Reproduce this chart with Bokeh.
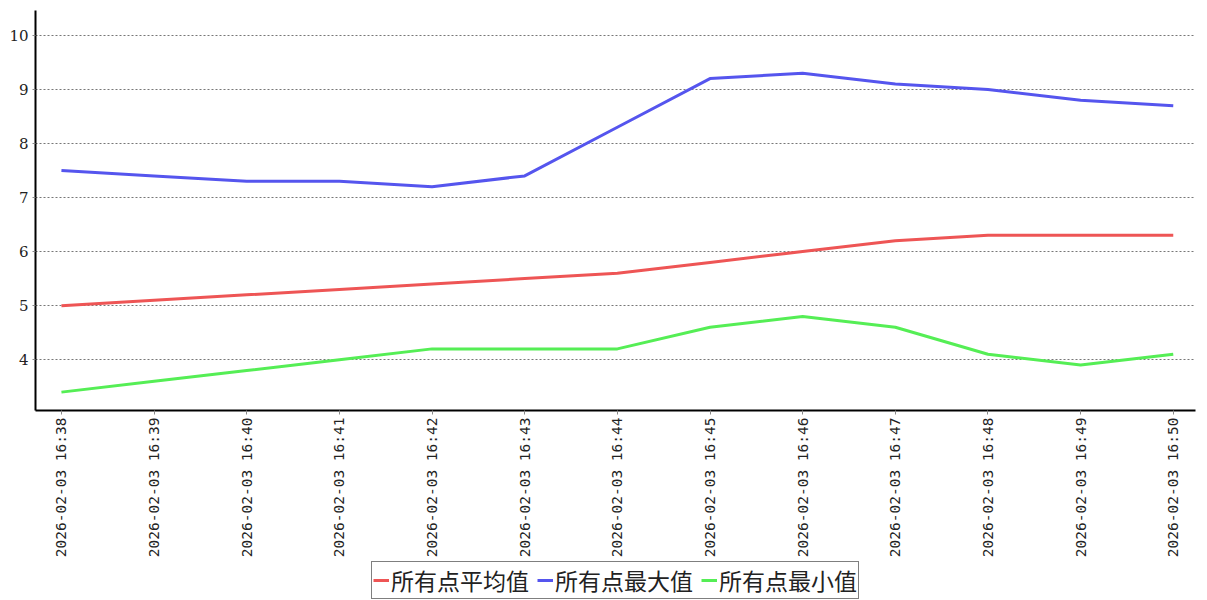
from bokeh.plotting import figure
from bokeh.layouts import column
from bokeh.models import Range1d, FixedTicker, Legend, LegendItem
from bokeh.embed import file_html
from bokeh.resources import INLINE

labels = ["2026-02-03 16:38", "2026-02-03 16:39", "2026-02-03 16:40", "2026-02-03 16:41",
          "2026-02-03 16:42", "2026-02-03 16:43", "2026-02-03 16:44", "2026-02-03 16:45",
          "2026-02-03 16:46", "2026-02-03 16:47", "2026-02-03 16:48", "2026-02-03 16:49",
          "2026-02-03 16:50"]
avg_vals = [5.0, 5.1, 5.2, 5.3, 5.4, 5.5, 5.6, 5.8, 6.0, 6.2, 6.3, 6.3, 6.3]
max_vals = [7.5, 7.4, 7.3, 7.3, 7.2, 7.4, 8.3, 9.2, 9.3, 9.1, 9.0, 8.8, 8.7]
min_vals = [3.4, 3.6, 3.8, 4.0, 4.2, 4.2, 4.2, 4.6, 4.8, 4.6, 4.1, 3.9, 4.1]
series_names = ["所有点平均值", "所有点最大值", "所有点最小值"]
y_ticks = [4, 5, 6, 7, 8, 9, 10]

xs = list(range(len(labels)))
colors = ["#ee5555", "#5555ee", "#55ee55"]
series = [avg_vals, max_vals, min_vals]

p = figure(width=1207, height=560, output_backend="svg", toolbar_location=None,
           x_range=Range1d(-0.28, 12.24), y_range=Range1d(3.06, 10.46),
           min_border_left=35, min_border_right=12, min_border_top=10, min_border_bottom=149)
p.outline_line_color = None
p.background_fill_color = "white"

for vals, c in zip(series, colors):
    p.line(xs, vals, line_color=c, line_width=3)

# axes
p.xaxis.ticker = FixedTicker(ticks=xs)
p.xaxis.major_label_overrides = {i: lab for i, lab in enumerate(labels)}
p.xaxis.major_label_orientation = 1.5707963
p.xaxis.major_label_text_font = "DejaVu Sans Mono"
p.xaxis.major_label_text_font_size = "14.5px"
p.xaxis.major_label_text_color = "#222222"
p.xaxis.minor_tick_line_color = None
p.xaxis.major_tick_in = 0
p.xaxis.major_tick_out = 4
p.xaxis.major_tick_line_color = "#888888"
p.xaxis.axis_line_width = 2
p.xaxis.axis_line_color = "black"
p.xaxis.major_label_standoff = 3

p.yaxis.ticker = FixedTicker(ticks=y_ticks)
p.yaxis.major_label_text_font = "DejaVu Serif"
p.yaxis.major_label_text_font_size = "15px"
p.yaxis.major_label_text_color = "#222222"
p.yaxis.minor_tick_line_color = None
p.yaxis.major_tick_in = 0
p.yaxis.major_tick_out = 3
p.yaxis.major_tick_line_color = "#888888"
p.yaxis.axis_line_width = 2
p.yaxis.axis_line_color = "black"
p.yaxis.major_label_standoff = 4

p.xgrid.grid_line_color = None
p.ygrid.grid_line_color = "#777777"
p.ygrid.grid_line_dash = "2 2"
p.ygrid.grid_line_width = 1

# legend strip (same series, drawn outside this strip's visible range)
lf = figure(width=1207, height=40, output_backend="svg", toolbar_location=None,
            x_range=Range1d(-0.28, 12.24), y_range=Range1d(100, 101),
            min_border=0)
lf.axis.visible = False
lf.grid.grid_line_color = None
lf.outline_line_color = None
rs = [lf.line(xs, vals, line_color=c, line_width=3) for vals, c in zip(series, colors)]

legend = Legend(items=[LegendItem(label=n, renderers=[r]) for n, r in zip(series_names, rs)],
                orientation="horizontal", location="center")
legend.label_text_font = "Noto Sans CJK SC"
legend.label_text_font_size = "23px"
legend.label_text_color = "#222222"
legend.glyph_width = 16
legend.glyph_height = 24
legend.label_standoff = 2
legend.spacing = 8
legend.padding = 1
legend.margin = 0
legend.border_line_color = "black"
legend.border_line_width = 1
legend.label_height = 24
lf.add_layout(legend, "center")

layout = column(p, lf, spacing=0)
open("out.html", "w").write(file_html(layout, INLINE))
